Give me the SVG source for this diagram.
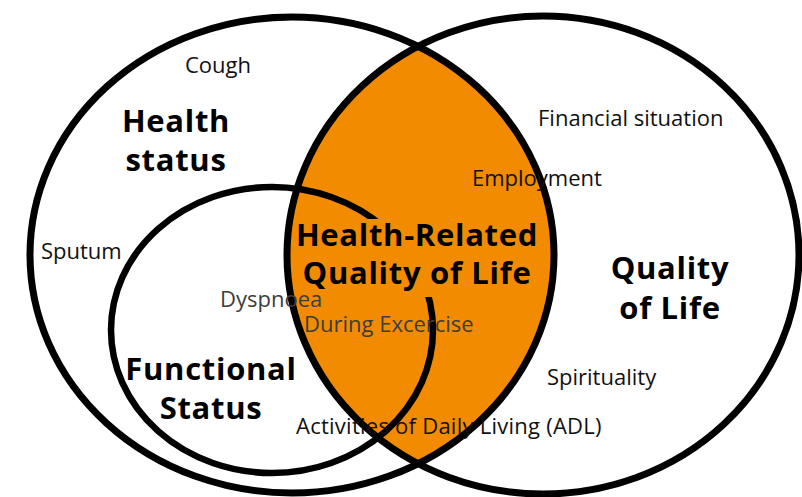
<svg xmlns="http://www.w3.org/2000/svg" width="802" height="497" viewBox="0 0 802 497">
<style>
.ring{fill:none;stroke:#000;stroke-width:7}
.lbl{font-family:"Open Sans","Liberation Sans",sans-serif;font-size:22px;fill:#111}
.gry{fill:#3d3d3d}
.big{font-family:"Open Sans","Liberation Sans",sans-serif;font-size:31px;letter-spacing:0.7px;font-weight:bold;fill:#000;text-anchor:middle}
</style>
<defs>
<clipPath id="clipLeft"><ellipse cx="292" cy="255" rx="262" ry="238"/></clipPath>
</defs>
<rect width="802" height="497" fill="#fff"/>
<g id="hrqol-fill" clip-path="url(#clipLeft)">
<ellipse cx="543" cy="255" rx="256" ry="239" fill="#F28B00"/>
</g>
<g id="functional-status">
<ellipse class="ring" cx="272" cy="330" rx="161" ry="143" style="stroke-width:6.5"/>
</g>
<g id="hrqol-label-bg" clip-path="url(#clipLeft)">
<rect x="300" y="219" width="245" height="78" fill="#F28B00"/>
</g>
<g id="health-status">
<ellipse class="ring" cx="292" cy="255" rx="262" ry="238"/>
</g>
<g id="quality-of-life">
<ellipse class="ring" cx="543" cy="255" rx="256" ry="239"/>
</g>
<g id="labels">
<text class="lbl" x="185" y="73">Cough</text>
<text class="big" x="176" y="132">Health</text>
<text class="big" x="176" y="171">status</text>
<text class="lbl" x="41" y="259">Sputum</text>
<text class="lbl gry" x="220" y="307">Dyspnoea</text>
<text class="lbl gry" x="304" y="332">During Excercise</text>
<text class="big" x="211" y="380">Functional</text>
<text class="big" x="211" y="419">Status</text>
<text class="lbl" x="296" y="434" style="letter-spacing:0.25px">Activities of Daily Living (ADL)</text>
<text class="lbl" x="472" y="186">Employment</text>
<text class="lbl" x="538" y="126">Financial situation</text>
<text class="big" x="417" y="246">Health-Related</text>
<text class="big" x="417" y="284">Quality of Life</text>
<text class="big" x="670" y="279">Quality</text>
<text class="big" x="670" y="319">of Life</text>
<text class="lbl" x="547" y="385">Spirituality</text>
</g>
</svg>
